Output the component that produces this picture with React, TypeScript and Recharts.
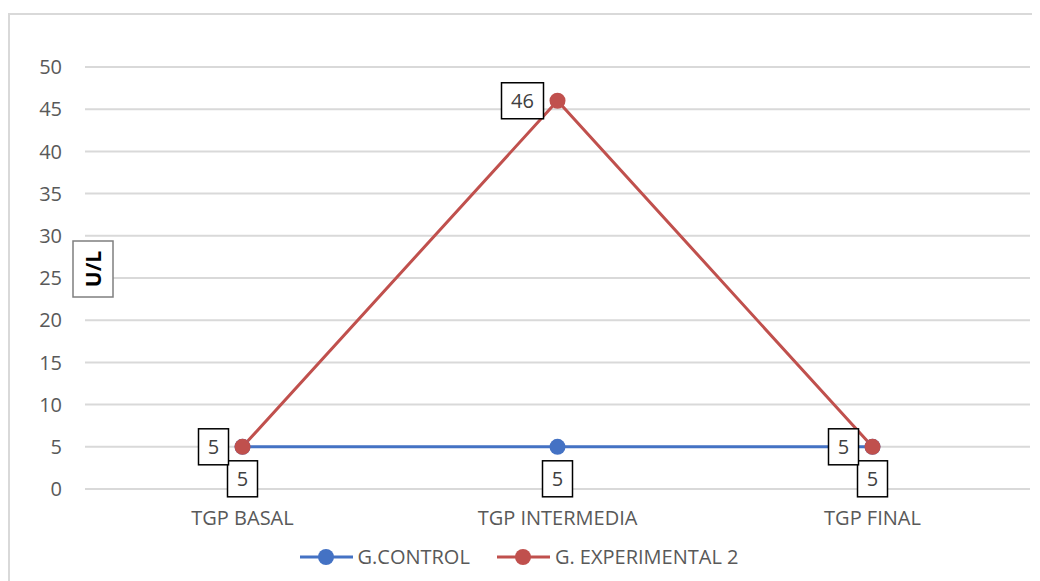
import React from 'react';
import { LineChart, Line, XAxis, YAxis, CartesianGrid, Legend, LabelList, Label } from 'recharts';

const categories = ['TGP BASAL', 'TGP INTERMEDIA', 'TGP FINAL'];
const controlValues = [5, 5, 5];
const experimentalValues = [5, 46, 5];
const yTicks = [0, 5, 10, 15, 20, 25, 30, 35, 40, 45, 50];

const data = categories.map((c, i) => ({ name: c, control: controlValues[i], exp: experimentalValues[i] }));

const FONT = '"Open Sans", "Liberation Sans", sans-serif';
const BLUE = '#4472C4';
const RED = '#C0504D';

const BoxLabel = (pos: 'below' | 'left') => (props: any) => {
  const { x, y, value } = props;
  const s = String(value);
  const w = s.length * 12 + 18;
  const h = 36;
  let cx = x, cy = y;
  if (pos === 'below') { cy = y + 32; }
  else { cx = x - 14 - w / 2; }
  return (
    <g>
      <rect x={cx - w / 2} y={cy - h / 2} width={w} height={h} fill="#fff" stroke="#000" strokeWidth={1.5} />
      <text x={cx} y={cy} textAnchor="middle" dominantBaseline="central" fontSize={20} fontFamily={FONT} fill="#404040">{s}</text>
    </g>
  );
};

const YLabel = (props: any) => {
  const { viewBox } = props;
  const cx = viewBox.x + 85;
  const cy = viewBox.y + viewBox.height / 2 - 9;
  return (
    <g>
      <rect x={cx - 20} y={cy - 28} width={40} height={56} fill="#fff" stroke="#7f7f7f" strokeWidth={1.5} />
      <text x={cx} y={cy} transform={`rotate(-90 ${cx} ${cy})`} textAnchor="middle" dominantBaseline="central" fontSize={21} fontWeight="bold" fontFamily={FONT} fill="#000">U/L</text>
    </g>
  );
};

const LegendContent = () => {
  const items = [
    { label: 'G.CONTROL', color: BLUE },
    { label: 'G. EXPERIMENTAL 2', color: RED },
  ];
  return (
    <div style={{ display: 'flex', justifyContent: 'center', gap: 27, fontFamily: FONT, fontSize: 20, color: '#595959', lineHeight: '24px' }}>
      {items.map((it) => (
        <div key={it.label} style={{ display: 'flex', alignItems: 'center' }}>
          <svg width={54} height={20}>
            <line x1={0} y1={10} x2={53} y2={10} stroke={it.color} strokeWidth={3} />
            <circle cx={26} cy={10} r={8} fill={it.color} />
          </svg>
          <span style={{ marginLeft: 4 }}>{it.label}</span>
        </div>
      ))}
    </div>
  );
};

export default function App() {
  return (
    <div style={{ position: 'relative', width: 1032, height: 573 }}>
      <div style={{ position: 'absolute', left: 0, top: 5, width: 1040, height: 580, border: '2px solid #D9D9D9', boxSizing: 'border-box' }} />
      <LineChart width={1032} height={573} data={data} margin={{ top: 59, right: 10, left: 0, bottom: 8 }} style={{ position: 'absolute', left: 0, top: 0 }}>
        <CartesianGrid horizontal vertical={false} stroke="#D9D9D9" strokeWidth={2} />
        <XAxis dataKey="name" scale="band" axisLine={false} tickLine={false} tickSize={0} tickMargin={22} height={60}
          tick={{ fontSize: 20, fontFamily: FONT, fill: '#595959' }} />
        <YAxis domain={[0, 50]} ticks={yTicks} width={77} axisLine={false} tickLine={false} tickSize={0} tickMargin={23}
          interval={0} tick={{ fontSize: 20, fontFamily: FONT, fill: '#595959' }}>
          <Label content={YLabel} />
        </YAxis>
        <Legend verticalAlign="bottom" content={LegendContent} wrapperStyle={{ bottom: 12 }} />
        <Line dataKey="control" stroke={BLUE} strokeWidth={3} dot={{ r: 8, fill: BLUE, stroke: BLUE, strokeWidth: 0 }} isAnimationActive={false}>
          <LabelList dataKey="control" content={BoxLabel('below')} />
        </Line>
        <Line dataKey="exp" stroke={RED} strokeWidth={3} dot={{ r: 8, fill: RED, stroke: RED, strokeWidth: 0 }} isAnimationActive={false}>
          <LabelList dataKey="exp" content={BoxLabel('left')} />
        </Line>
      </LineChart>
    </div>
  );
}
